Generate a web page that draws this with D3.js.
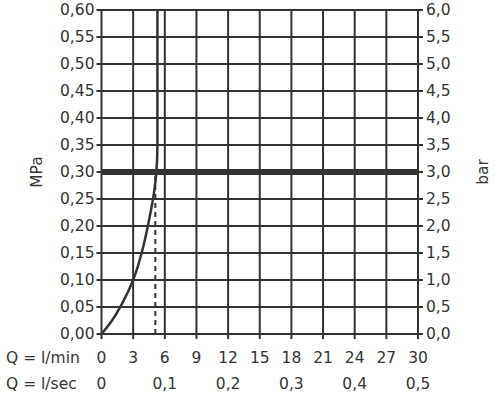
<!DOCTYPE html>
<html><head><meta charset="utf-8">
<script src="https://cdn.jsdelivr.net/npm/d3@7"></script>
<style>body{margin:0;background:#fff}text{font-family:"DejaVu Sans",sans-serif;fill:#333;font-size:15.5px}</style>
</head><body><svg width="500" height="400"></svg>
<script>
var lminTicks = [0, 3, 6, 9, 12, 15, 18, 21, 24, 27, 30];
var lsecTicks = [0, 0.1, 0.2, 0.3, 0.4, 0.5];
var mpaTicks = [0, 0.05, 0.10, 0.15, 0.20, 0.25, 0.30, 0.35, 0.40, 0.45, 0.50, 0.55, 0.60];
var curveQ = [0, 1, 2, 3, 4, 4.5, 5, 5.2, 5.3, 5.3];
var curveP = [0, 0.025, 0.058, 0.10, 0.165, 0.21, 0.265, 0.30, 0.35, 0.60];
var dashQ = 5.1, limitP = 0.30;

var svg = d3.select("svg");
var x = d3.scaleLinear().domain([0, 30]).range([101.5, 418]);
var y = d3.scaleLinear().domain([0, 0.6]).range([334, 10]);
var c = "#333";
var fmt = function(v, d) { return v.toFixed(d).replace(".", ","); };

svg.append("g").selectAll("line").data(lminTicks).enter().append("line")
    .attr("x1", d => x(d)).attr("x2", d => x(d))
    .attr("y1", y(0.6)).attr("y2", y(0) + 5)
    .attr("stroke", c).attr("stroke-width", 2);
svg.append("g").selectAll("line").data(mpaTicks).enter().append("line")
    .attr("x1", x(0) - 5).attr("x2", x(30) + 5)
    .attr("y1", d => y(d)).attr("y2", d => y(d))
    .attr("stroke", c).attr("stroke-width", 2);

svg.append("line").attr("x1", x(0)).attr("x2", x(30))
    .attr("y1", y(limitP)).attr("y2", y(limitP))
    .attr("stroke", c).attr("stroke-width", 6);
svg.append("line").attr("x1", x(dashQ)).attr("x2", x(dashQ))
    .attr("y1", y(0)).attr("y2", y(limitP))
    .attr("stroke", c).attr("stroke-width", 2).attr("stroke-dasharray", "5,4");

var pts = curveQ.map((q, i) => [q, curveP[i]]);
svg.append("path").datum(pts)
    .attr("d", d3.line().x(d => x(d[0])).y(d => y(d[1])).curve(d3.curveMonotoneY))
    .attr("fill", "none").attr("stroke", c).attr("stroke-width", 2.5);

svg.append("g").selectAll("text").data(mpaTicks).enter().append("text")
    .attr("x", x(0) - 7).attr("y", d => y(d) + 5).attr("text-anchor", "end")
    .text(d => fmt(d, 2));
svg.append("g").selectAll("text").data(mpaTicks).enter().append("text")
    .attr("x", x(30) + 8).attr("y", d => y(d) + 5)
    .text(d => fmt(d * 10, 1));
svg.append("text").attr("transform", "translate(42," + y(0.3) + ") rotate(-90)")
    .attr("text-anchor", "middle").text("MPa");
svg.append("text").attr("transform", "translate(488," + y(0.3) + ") rotate(-90)")
    .attr("text-anchor", "middle").text("bar");

svg.append("text").attr("x", 6).attr("y", 363).text("Q = l/min");
svg.append("g").selectAll("text").data(lminTicks).enter().append("text")
    .attr("x", d => x(d)).attr("y", 363).attr("text-anchor", "middle").text(d => d);
svg.append("text").attr("x", 6).attr("y", 389).text("Q = l/sec");
svg.append("g").selectAll("text").data(lsecTicks).enter().append("text")
    .attr("x", d => x(d * 60)).attr("y", 389).attr("text-anchor", "middle")
    .text(d => d === 0 ? "0" : fmt(d, 1));
</script></body></html>
